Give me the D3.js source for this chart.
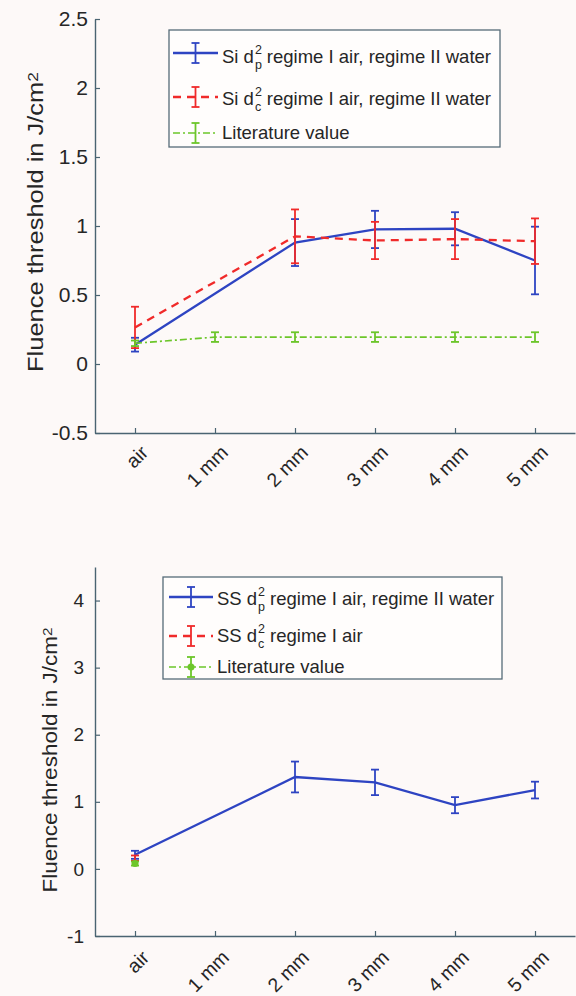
<!DOCTYPE html>
<html><head><meta charset="utf-8">
<script src="https://cdn.jsdelivr.net/npm/d3@7"></script>
<style>
html,body{margin:0;padding:0;background:#fdf9f8;}
svg{display:block;font-family:"Liberation Sans",Arial,Helvetica,sans-serif;}
svg text{white-space:pre;}
</style></head><body>
<svg id="c" width="576" height="996"></svg>
<script>
const categories = ["air", "1 mm", "2 mm", "3 mm", "4 mm", "5 mm"];

// Top panel: Si
const siDpValues  = [0.14, null, 0.88, 0.975, 0.98, 0.75];
const siDpErrors  = [0.05, null, 0.17, 0.135, 0.12, 0.245];
const siDcValues  = [0.265, null, 0.925, 0.895, 0.905, 0.89];
const siDcErrors  = [0.15, null, 0.195, 0.135, 0.145, 0.165];
const siLitValues = [0.15, 0.195, 0.195, 0.195, 0.195, 0.195];
const siLitErrors = [0.02, 0.035, 0.035, 0.035, 0.035, 0.035];
const topYTicks = [-0.5, 0, 0.5, 1, 1.5, 2, 2.5];

// Bottom panel: SS
const ssDpValues  = [0.21, null, 1.37, 1.29, 0.95, 1.175];
const ssDpErrors  = [0.06, null, 0.23, 0.19, 0.12, 0.125];
const ssDcValues  = [0.16, null, null, null, null, null];
const ssDcErrors  = [0.04, null, null, null, null, null];
const ssLitValues = [0.08, null, null, null, null, null];
const ssLitErrors = [0.03, null, null, null, null, null];
const bottomYTicks = [-1, 0, 1, 2, 3, 4];

const yLabelText = "Fluence threshold in J/cm";
const topLegend = [
  {pre: "Si d", sup: "2", sub: "p", post: "regime I air, regime II water"},
  {pre: "Si d", sup: "2", sub: "c", post: "regime I air, regime II water"},
  {pre: "Literature value"}
];
const bottomLegend = [
  {pre: "SS d", sup: "2", sub: "p", post: "regime I air, regime II water"},
  {pre: "SS d", sup: "2", sub: "c", post: "regime I air"},
  {pre: "Literature value"}
];

const svg = d3.select("#c");
const AXIS = "#4a6472", TXT = "#262626";
const BLUE = "#2e44c2", RED = "#f02a2a", GREEN = "#6cc62a";
const STY = {
  dp:  {color: BLUE,  dash: null,        width: 2.3},
  dc:  {color: RED,   dash: "8,6",       width: 2.3},
  lit: {color: GREEN, dash: "7,3,2,3",   width: 1.7}
};

function textWidth(str, fs) {
  const t = svg.append("text").style("font-size", fs + "px").text(str);
  const w = t.node().getComputedTextLength();
  t.remove();
  return w;
}

function drawPanel(p) {
  const g = svg.append("g");
  const x = d3.scaleLinear().domain([0.5, 6.5]).range([95, 575]);
  const y = d3.scaleLinear().domain(p.yDomain).range(p.yRange);

  const ya = g.append("g").attr("transform", "translate(95,0)")
    .call(d3.axisLeft(y).tickValues(p.yTicks).tickSize(-5).tickSizeOuter(0)
      .tickPadding(p.yPad).tickFormat(d => String(d)));
  const xa = g.append("g").attr("transform", `translate(0,${p.yRange[0]})`)
    .call(d3.axisBottom(x).tickValues([1, 2, 3, 4, 5, 6]).tickSize(-5).tickSizeOuter(0)
      .tickFormat(i => categories[i - 1]));
  [ya, xa].forEach(a => {
    a.select(".domain").attr("stroke", AXIS).attr("stroke-width", 1.4);
    a.selectAll(".tick line").attr("stroke", AXIS).attr("stroke-width", 1.2);
    a.selectAll("text").attr("fill", TXT).style("font-family", '"Liberation Sans",Arial,sans-serif');
  });
  ya.selectAll("text").style("font-size", p.yTickFs + "px");
  xa.selectAll("text").style("font-size", "19.5px")
    .attr("y", 0).attr("dy", "0.35em").attr("text-anchor", "end")
    .attr("transform", `translate(${p.xlDx},${p.xlDy}) rotate(-45)`);

  // y label
  const yl = g.append("text").attr("fill", TXT).attr("text-anchor", "middle")
    .style("font-size", p.ylFs + "px");
  yl.append("tspan").text(yLabelText);
  yl.append("tspan").attr("dy", -5).style("font-size", (p.ylFs * 0.68) + "px").text("2");
  const bw = yl.node().getBBox().width;
  const sc = p.ylLen / bw;
  yl.attr("transform", `translate(${p.ylX},${p.ylY}) rotate(-90) scale(${sc},1)`);

  function series(vals, errs, st, marker) {
    const pts = vals.map((v, i) => ({i: i + 1, v, e: errs[i]})).filter(d => d.v != null);
    if (pts.length > 1) {
      g.append("path").datum(pts)
        .attr("d", d3.line().x(d => x(d.i)).y(d => y(d.v)))
        .attr("fill", "none").attr("stroke", st.color).attr("stroke-width", st.width)
        .attr("stroke-dasharray", st.dash);
    }
    const eb = g.append("g").attr("stroke", st.color).attr("stroke-width", 1.8);
    pts.forEach(d => {
      const cx = x(d.i), y0 = y(d.v - d.e), y1 = y(d.v + d.e);
      eb.append("line").attr("x1", cx).attr("x2", cx).attr("y1", y0).attr("y2", y1);
      eb.append("line").attr("x1", cx - 4).attr("x2", cx + 4).attr("y1", y0).attr("y2", y0);
      eb.append("line").attr("x1", cx - 4).attr("x2", cx + 4).attr("y1", y1).attr("y2", y1);
      if (marker) g.append("circle").attr("cx", cx).attr("cy", y(d.v)).attr("r", 3.5).attr("fill", st.color);
    });
  }
  p.series.forEach(s => series(s.v, s.e, s.st, s.marker));

  // legend
  const L = p.legend;
  const lg = g.append("g");
  lg.append("rect").attr("x", L.x0).attr("y", L.y0).attr("width", L.x1 - L.x0).attr("height", L.y1 - L.y0)
    .attr("fill", "#fffdfc").attr("stroke", "#566c78").attr("stroke-width", 1.3);
  L.items.forEach((it, k) => {
    const st = p.series[k].st;
    const ly = L.lineY[k], by = L.baseY[k];
    lg.append("line").attr("x1", L.sx0).attr("x2", L.sx1).attr("y1", ly).attr("y2", ly)
      .attr("stroke", st.color).attr("stroke-width", st.width).attr("stroke-dasharray", st.dash);
    const cx = (L.sx0 + L.sx1) / 2;
    [[ly - 10, ly + 10], [ly - 10, ly - 10], [ly + 10, ly + 10]].forEach((yy, j) => {
      lg.append("line").attr("x1", j ? cx - 4 : cx).attr("x2", j ? cx + 4 : cx)
        .attr("y1", yy[0]).attr("y2", yy[1]).attr("stroke", st.color).attr("stroke-width", 1.8);
    });
    if (p.series[k].marker) lg.append("circle").attr("cx", cx).attr("cy", ly).attr("r", 3.5).attr("fill", st.color);
    const fs = 18.5, sfs = 12.5;
    const t = lg.append("text").attr("x", L.tx).attr("y", by).attr("fill", TXT).style("font-size", fs + "px");
    t.append("tspan").text(it.pre);
    if (it.sup) {
      const w = textWidth(it.pre, fs);
      const sx = L.tx + w + 1;
      const ws = Math.max(textWidth(it.sup, sfs), textWidth(it.sub, sfs));
      t.append("tspan").attr("x", sx).attr("y", by - 9).style("font-size", sfs + "px").text(it.sup);
      t.append("tspan").attr("x", sx).attr("y", by + 6).style("font-size", sfs + "px").text(it.sub);
      t.append("tspan").attr("x", sx + ws + 5).attr("y", by).text(it.post);
    }
  });
}

drawPanel({
  yDomain: [-0.5, 2.5], yRange: [433, 19], yTicks: topYTicks, yPad: 7, yTickFs: 21,
  xlDx: 9, xlDy: 16,
  ylFs: 22, ylLen: 300, ylX: 43, ylY: 222,
  series: [
    {v: siDpValues, e: siDpErrors, st: STY.dp},
    {v: siDcValues, e: siDcErrors, st: STY.dc},
    {v: siLitValues, e: siLitErrors, st: STY.lit}
  ],
  legend: {x0: 169, x1: 500, y0: 30, y1: 147, sx0: 173, sx1: 218, tx: 222,
    lineY: [53, 97, 133], baseY: [63, 105, 139], items: topLegend}
});

drawPanel({
  yDomain: [-1, 4.5], yRange: [936, 567], yTicks: bottomYTicks, yPad: 11, yTickFs: 19,
  xlDx: 10, xlDy: 18,
  ylFs: 20, ylLen: 265, ylX: 57, ylY: 760,
  series: [
    {v: ssDpValues, e: ssDpErrors, st: STY.dp},
    {v: ssDcValues, e: ssDcErrors, st: STY.dc},
    {v: ssLitValues, e: ssLitErrors, st: STY.lit, marker: true}
  ],
  legend: {x0: 163, x1: 502, y0: 577, y1: 679, sx0: 169, sx1: 213, tx: 217,
    lineY: [597, 636, 667], baseY: [605, 642, 673], items: bottomLegend}
});
</script>
</body></html>
